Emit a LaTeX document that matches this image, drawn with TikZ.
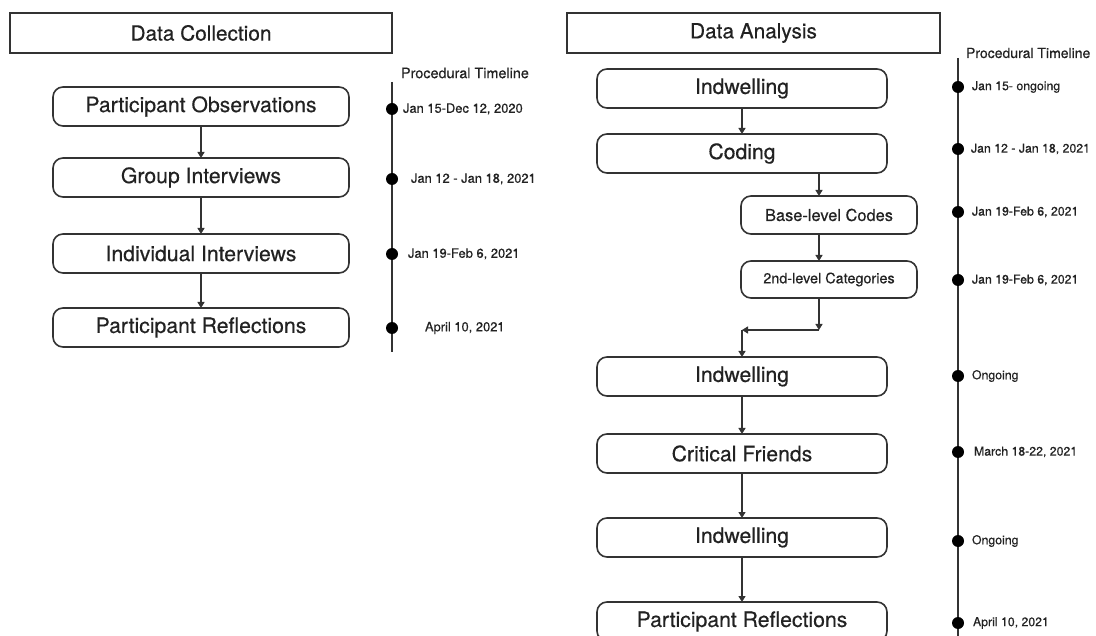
\documentclass[tikz,border=0pt]{standalone}
\usepackage{fontspec}
\setmainfont{TeX Gyre Heros}[FakeBold=0.4]
\usetikzlibrary{arrows.meta}
\definecolor{ink}{HTML}{222222}
\definecolor{edge}{HTML}{333333}
\begin{document}
\begin{tikzpicture}[x=1pt,y=-1pt,
  every node/.style={inner sep=0pt,outer sep=0pt,text=ink},
  titlebox/.style={draw=edge,line width=1.6pt,minimum height=40pt,
    font=\fontsize{20.8}{24}\selectfont},
  stagebox/.style={draw=edge,line width=1.6pt,rounded corners=10pt,
    minimum width=292pt,minimum height=39pt,font=\fontsize{21.2}{24}\selectfont},
  subbox/.style={draw=edge,line width=1.6pt,rounded corners=10pt,
    minimum width=176pt,minimum height=38pt},
  flow/.style={draw=edge,line width=1.3pt,-{Triangle[width=7pt,length=6pt]}},
  tline/.style={draw=edge,line width=1.7pt},
  tdot/.style={circle,fill=black,minimum size=12pt},
  tlabel/.style={anchor=west,font=\fontsize{12.9}{15}\selectfont},
  rlabel/.style={anchor=west,font=\fontsize{12.3}{14}\selectfont},
  thead/.style={anchor=west,font=\fontsize{14.4}{16}\selectfont}]
\useasboundingbox (0,0) rectangle (1096,636);

% ---------- Data collection ----------
\node[titlebox,minimum width=382pt] (dc) at (201,33) {Data Collection};
\node[stagebox,minimum width=296pt] (po) at (201,106.5) {Participant Observations};
\node[stagebox,minimum width=296pt] (gi) at (201,177.5) {Group Interviews};
\node[stagebox,minimum width=296pt] (ii) at (201,253.5) {Individual Interviews};
\node[stagebox,minimum width=296pt] (pr) at (201,327.5) {Participant Reflections};
\draw[flow] (po) -- (gi);
\draw[flow] (gi) -- (ii);
\draw[flow] (ii) -- (pr);

% left timeline
\coordinate (lt0) at (392,82);
\coordinate (lt1) at (392,352);
\draw[tline] (lt0) -- (lt1);
\node[thead] (lthead) at (401,73) {Procedural Timeline};
\node[tdot] (ld1) at (392,109) {};
\node[tdot] (ld2) at (392,179) {};
\node[tdot] (ld3) at (392,254) {};
\node[tdot] (ld4) at (392,328) {};
\node[tlabel] (ll1) at (403,109) {Jan 15-Dec 12, 2020};
\node[tlabel] (ll2) at (411,179) {Jan 12 - Jan 18, 2021};
\node[tlabel] (ll3) at (408,254) {Jan 19-Feb 6, 2021};
\node[tlabel] (ll4) at (425,328) {April 10, 2021};

% ---------- Data analysis ----------
\node[titlebox,minimum width=373pt] (da) at (753.5,33) {Data Analysis};
\node[stagebox,minimum width=290pt] (ind1) at (742,88.5) {Indwelling};
\node[stagebox,minimum width=290pt] (cod) at (742,153.5) {Coding};
\node[subbox,font=\fontsize{16.4}{18}\selectfont] (base) at (829,215) {Base-level Codes};
\node[subbox,minimum height=37pt,font=\fontsize{14.4}{16}\selectfont] (cat) at (829,279.5) {2nd-level Categories};
\node[stagebox,minimum width=290pt] (ind2) at (742,376.5) {Indwelling};
\node[stagebox,minimum width=290pt] (cf) at (742,453.5) {Critical Friends};
\node[stagebox,minimum width=290pt] (ind3) at (742,537.5) {Indwelling};
\node[stagebox,minimum width=290pt] (pr2) at (742,621.5) {Participant Reflections};

\coordinate (c1) at (819,330);
\coordinate (c2) at (742,330);
\draw[flow] (ind1) -- (cod);
\draw[flow] (cod.south -| c1) -- (base.north -| c1);
\draw[flow] (base.south -| c1) -- (cat.north -| c1);
\draw[flow] (cat.south -| c1) -- (c1);
\draw[flow] (c1) -- (c2);
\draw[flow] (c2) -- (ind2);
\draw[flow] (ind2) -- (cf);
\draw[flow] (cf) -- (ind3);
\draw[flow] (ind3) -- (pr2);

% right timeline
\coordinate (rt0) at (958,58);
\coordinate (rt1) at (958,640);
\draw[tline] (rt0) -- (rt1);
\node[thead,font=\fontsize{14}{16}\selectfont] (rthead) at (966,53) {Procedural Timeline};
\node[tdot] (rd1) at (958,87) {};
\node[tdot] (rd2) at (958,149) {};
\node[tdot] (rd3) at (958,212) {};
\node[tdot] (rd4) at (958,280) {};
\node[tdot] (rd5) at (958,376) {};
\node[tdot] (rd6) at (958,452) {};
\node[tdot] (rd7) at (958,541) {};
\node[tdot] (rd8) at (958,623) {};
\node[rlabel] (rl1) at (972,87) {Jan 15- ongoing};
\node[rlabel] (rl2) at (971,149) {Jan 12 - Jan 18, 2021};
\node[rlabel] (rl3) at (972,212) {Jan 19-Feb 6, 2021};
\node[rlabel] (rl4) at (972,280) {Jan 19-Feb 6, 2021};
\node[rlabel] (rl5) at (972,376) {Ongoing};
\node[rlabel] (rl6) at (974,452) {March 18-22, 2021};
\node[rlabel] (rl7) at (972,541) {Ongoing};
\node[rlabel] (rl8) at (973,623) {April 10, 2021};
\end{tikzpicture}
\end{document}
